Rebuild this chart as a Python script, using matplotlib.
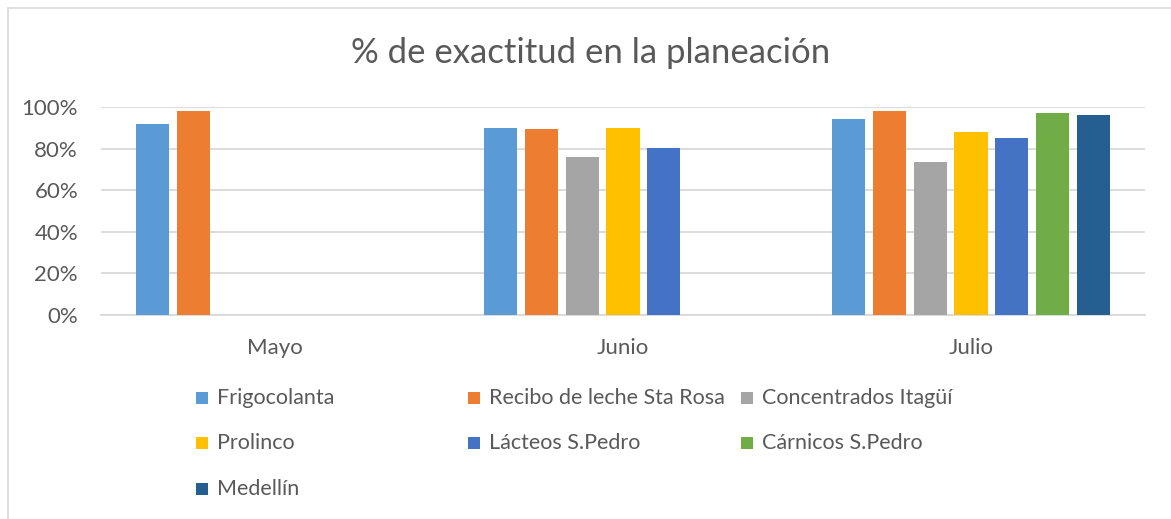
import numpy as np
from matplotlib import pyplot as plt
from matplotlib.patches import Rectangle
from matplotlib.lines import Line2D
from matplotlib.ticker import PercentFormatter

plt.rcParams['font.family'] = ['Lato', 'DejaVu Sans']

months = ["Mayo", "Junio", "Julio"]
series = ["Frigocolanta", "Recibo de leche Sta Rosa", "Concentrados Itagüí",
          "Prolinco", "Lácteos S.Pedro", "Cárnicos S.Pedro", "Medellín"]
frigocolanta = [0.92, 0.90, 0.94]
recibo = [0.98, 0.895, 0.98]
concentrados = [np.nan, 0.76, 0.735]
prolinco = [np.nan, 0.90, 0.88]
lacteos = [np.nan, 0.805, 0.85]
carnicos = [np.nan, np.nan, 0.97]
medellin = [np.nan, np.nan, 0.96]
values = [frigocolanta, recibo, concentrados, prolinco, lacteos, carnicos, medellin]
colors = ["#5B9BD5", "#ED7D31", "#A5A5A5", "#FFC000", "#4472C4", "#70AD47", "#255E91"]

txt = "#595959"
W, H = 1171, 519
fig = plt.figure(figsize=(W / 100, H / 100), dpi=100)
ax = fig.add_axes([101 / W, 1 - 315 / H, (1145 - 101) / W, (315 - 107) / H])

x = np.arange(len(months))
step = 0.117
width = 0.095
for i, (name, vals, c) in enumerate(zip(series, values, colors)):
    ax.bar(x + (i - 3) * step, vals, width, color=c, label=name, zorder=3)

ax.set_xlim(-0.5, 2.5)
ax.set_ylim(0, 1)
ax.set_yticks(np.arange(0, 1.01, 0.2))
ax.yaxis.set_major_formatter(PercentFormatter(1.0, decimals=0))
ax.set_xticks(x)
ax.set_xticklabels(months)
ax.tick_params(length=0, colors=txt, labelsize=16)
ax.tick_params(axis='y', pad=16.5)
ax.tick_params(axis='x', pad=16.5)
ax.grid(axis='y', color="#D9D9D9", lw=1.3, zorder=0)
for s in ["top", "right", "left"]:
    ax.spines[s].set_visible(False)
ax.spines["bottom"].set_color("#D9D9D9")
ax.spines["bottom"].set_linewidth(1.3)

fig.text(591 / W, 1 - 53 / H, "% de exactitud en la planeación", ha="center", va="center",
         fontsize=25, color=txt)

# legend laid out like the spreadsheet one: 3 equal columns, filled row by row
col_x = [196, 468, 741]
row_y = [398, 443, 489]
sq = 12
for i, (name, c) in enumerate(zip(series, colors)):
    cx = col_x[i % 3]
    cy = row_y[i // 3]
    fig.add_artist(Rectangle((cx / W, 1 - (cy + sq / 2) / H), sq / W, sq / H,
                             transform=fig.transFigure, color=c, lw=0))
    fig.text((cx + 21) / W, 1 - cy / H, name, ha="left", va="center",
             fontsize=15.5, color=txt)

# chart border
fig.add_artist(Line2D([8 / W, 1], [1 - 8 / H, 1 - 8 / H], transform=fig.transFigure,
                      color="#D9D9D9", lw=1.2))
fig.add_artist(Line2D([8 / W, 8 / W], [0, 1 - 8 / H], transform=fig.transFigure,
                      color="#D9D9D9", lw=1.2))

plt.savefig("out.png", dpi=100)
